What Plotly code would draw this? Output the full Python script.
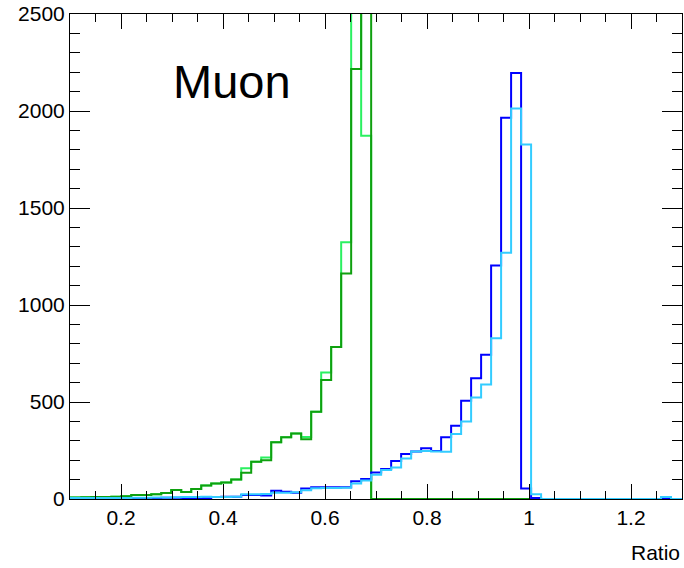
import plotly.graph_objects as go

# Histogram binning (bins cover the visible 0.1 .. 1.3 range)
bin_first_edge = 0.0829
bin_width = 0.0196
n_bins = 63
bin_edges = [round(bin_first_edge + i * bin_width, 5) for i in range(n_bins + 1)]

# Series values (one per bin)
green_dark = [8, 8, 9, 10, 10, 12, 14, 20, 20, 25, 31, 47, 36, 52, 70, 80, 85, 101,
              135, 192, 200, 292, 318, 338, 308, 450, 614, 783, 1162, 2216, 3400] + [0] * 32
green_light = [8, 8, 9, 10, 10, 12, 14, 20, 20, 25, 31, 47, 36, 52, 70, 80, 85, 101,
               158, 192, 214, 292, 318, 338, 320, 450, 652, 783, 1324, 3400, 1872] + [0] * 32
blue = [3, 3, 0, 3, 3, 4, 4, 4, 5, 5, 6, 6, 3, 3, 4, 10, 12, 12, 20, 20, 18, 42, 38, 32,
        54, 60, 60, 60, 60, 92, 103, 137, 155, 196, 232, 245, 261, 247, 318, 377, 507,
        623, 743, 1203, 1965, 2196, 54, 5] + [0] * 15
cyan = [5, 5, 5, 5, 5, 5, 5, 6, 7, 8, 8, 9, 10, 10, 11, 10, 10, 11, 25, 25, 26, 32, 32,
        35, 45, 55, 57, 57, 58, 80, 95, 125, 150, 163, 209, 245, 247, 245, 243, 335, 399,
        523, 590, 829, 1269, 2013, 1827, 25] + [0] * 12 + [10, 0, 0]

series = [
    ("light green", green_light, "#2bf060"),
    ("dark green", green_dark, "#0fa00f"),
    ("blue", blue, "#0000ff"),
    ("light blue", cyan, "#33ccff"),
]

fig = go.Figure()
for name, vals, col in series:
    fig.add_trace(go.Scatter(
        x=bin_edges,
        y=list(vals) + [vals[-1]],
        mode="lines",
        line=dict(color=col, width=2, shape="hv"),
        name=name,
        hoverinfo="skip",
    ))

font_family = "Liberation Sans, Arial, Helvetica, sans-serif"

fig.update_layout(
    width=684, height=568,
    margin=dict(l=70, r=2, t=14, b=69),
    paper_bgcolor="white", plot_bgcolor="white",
    showlegend=False,
    font=dict(family=font_family, color="black"),
)

fig.update_xaxes(
    range=[0.1, 1.3],
    tickmode="linear", tick0=0, dtick=0.2,
    ticks="inside", ticklen=15, tickwidth=1, tickcolor="black",
    minor=dict(ticks="inside", ticklen=8, tickwidth=1, tickcolor="black",
               tickmode="linear", tick0=0, dtick=0.05),
    showline=True, linecolor="black", linewidth=1, mirror="ticks",
    showgrid=False, zeroline=False,
    tickfont=dict(size=21, family=font_family, color="black"),
)
fig.update_yaxes(
    range=[0, 2500],
    tickmode="linear", tick0=0, dtick=500, tickformat="d",
    ticks="inside", ticklen=20, tickwidth=1, tickcolor="black",
    minor=dict(ticks="inside", ticklen=10, tickwidth=1, tickcolor="black",
               tickmode="linear", tick0=0, dtick=100),
    showline=True, linecolor="black", linewidth=1, mirror="ticks",
    showgrid=False, zeroline=False,
    tickfont=dict(size=21, family=font_family, color="black"),
)

fig.add_annotation(
    text="Muon", xref="paper", yref="paper", x=0.264, y=0.86,
    xanchor="center", yanchor="middle", showarrow=False,
    font=dict(size=47, family=font_family, color="black"),
)
fig.add_annotation(
    text="Ratio", xref="paper", yref="paper", x=1.0, y=-0.111,
    xanchor="right", yanchor="middle", showarrow=False,
    font=dict(size=21, family=font_family, color="black"),
)

fig.write_html("out.html")
